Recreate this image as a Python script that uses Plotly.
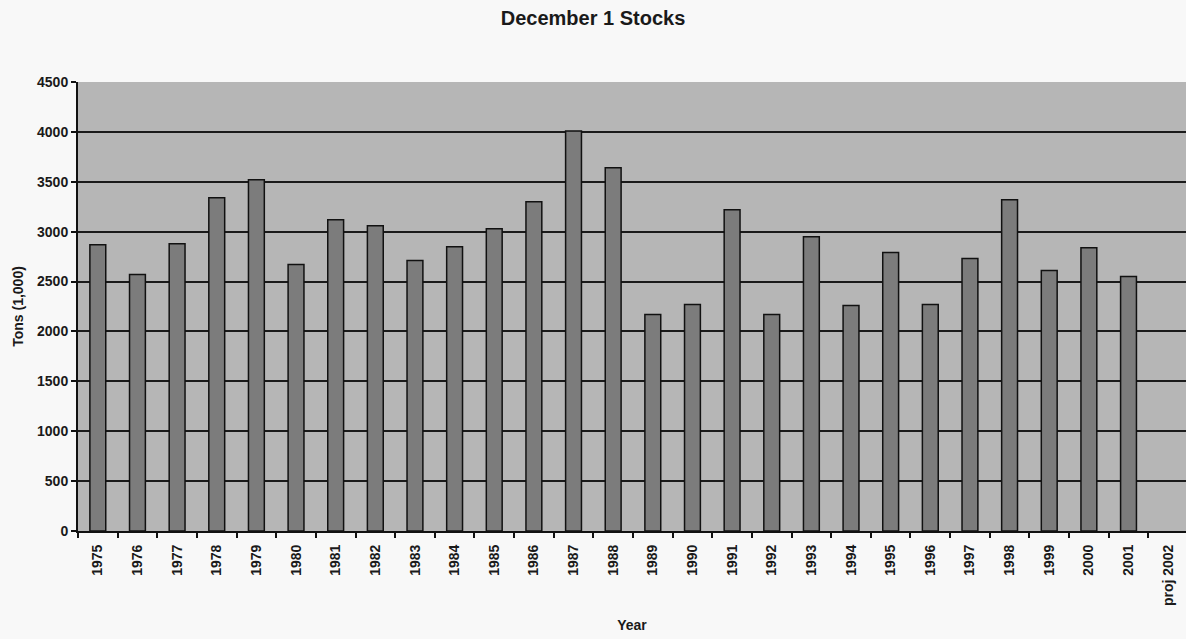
import plotly.graph_objects as go

# December 1 stocks, thousand tons
years = ["1975", "1976", "1977", "1978", "1979", "1980", "1981", "1982", "1983",
         "1984", "1985", "1986", "1987", "1988", "1989", "1990", "1991", "1992",
         "1993", "1994", "1995", "1996", "1997", "1998", "1999", "2000", "2001",
         "proj 2002"]
stocks = [2870, 2570, 2880, 3340, 3520, 2670, 3120, 3060, 2710,
          2850, 3030, 3300, 4010, 3640, 2170, 2270, 3220, 2170,
          2950, 2260, 2790, 2270, 2730, 3320, 2610, 2840, 2550,
          None]
y_ticks = [0, 500, 1000, 1500, 2000, 2500, 3000, 3500, 4000, 4500]

FONT = "Liberation Sans, Arial, sans-serif"
INK = "#1a1a1a"

fig = go.Figure(
    go.Bar(
        x=years,
        y=stocks,
        marker=dict(color="#7c7c7c", line=dict(color="#111111", width=1.5)),
        hoverinfo="x+y",
    )
)

fig.update_layout(
    width=1186,
    height=639,
    margin=dict(l=78, r=0, t=82, b=108),
    paper_bgcolor="#f8f8f8",
    plot_bgcolor="#b6b6b6",
    bargap=0.6,
    showlegend=False,
    font=dict(family=FONT, size=14, color=INK, weight="bold"),
    title=dict(
        text="December 1 Stocks",
        x=0.5,
        xanchor="center",
        y=0.972,
        yanchor="middle",
        font=dict(family=FONT, size=20, color=INK, weight="bold"),
    ),
)

fig.update_xaxes(
    type="category",
    range=[-0.5, 27.45],
    tickangle=-90,
    tickson="boundaries",
    ticks="outside",
    ticklen=5,
    tickwidth=1.5,
    tickcolor="#111111",
    ticklabelstandoff=6,
    showline=True,
    linecolor="#111111",
    linewidth=2,
    showgrid=False,
    tickfont=dict(family=FONT, size=14, color=INK, weight="bold"),
    title=dict(text="Year", standoff=15,
               font=dict(family=FONT, size=14, color=INK, weight="bold")),
    fixedrange=True,
)

fig.update_yaxes(
    range=[0, 4500],
    tickvals=y_ticks,
    ticks="outside",
    ticklen=5,
    tickwidth=1.5,
    tickcolor="#111111",
    showline=True,
    linecolor="#111111",
    linewidth=2,
    showgrid=True,
    gridcolor=INK,
    gridwidth=2,
    zeroline=False,
    tickfont=dict(family=FONT, size=14, color=INK, weight="bold"),
    title=dict(text="Tons (1,000)", standoff=10,
               font=dict(family=FONT, size=14, color=INK, weight="bold")),
    fixedrange=True,
)

fig.write_html("out.html")
